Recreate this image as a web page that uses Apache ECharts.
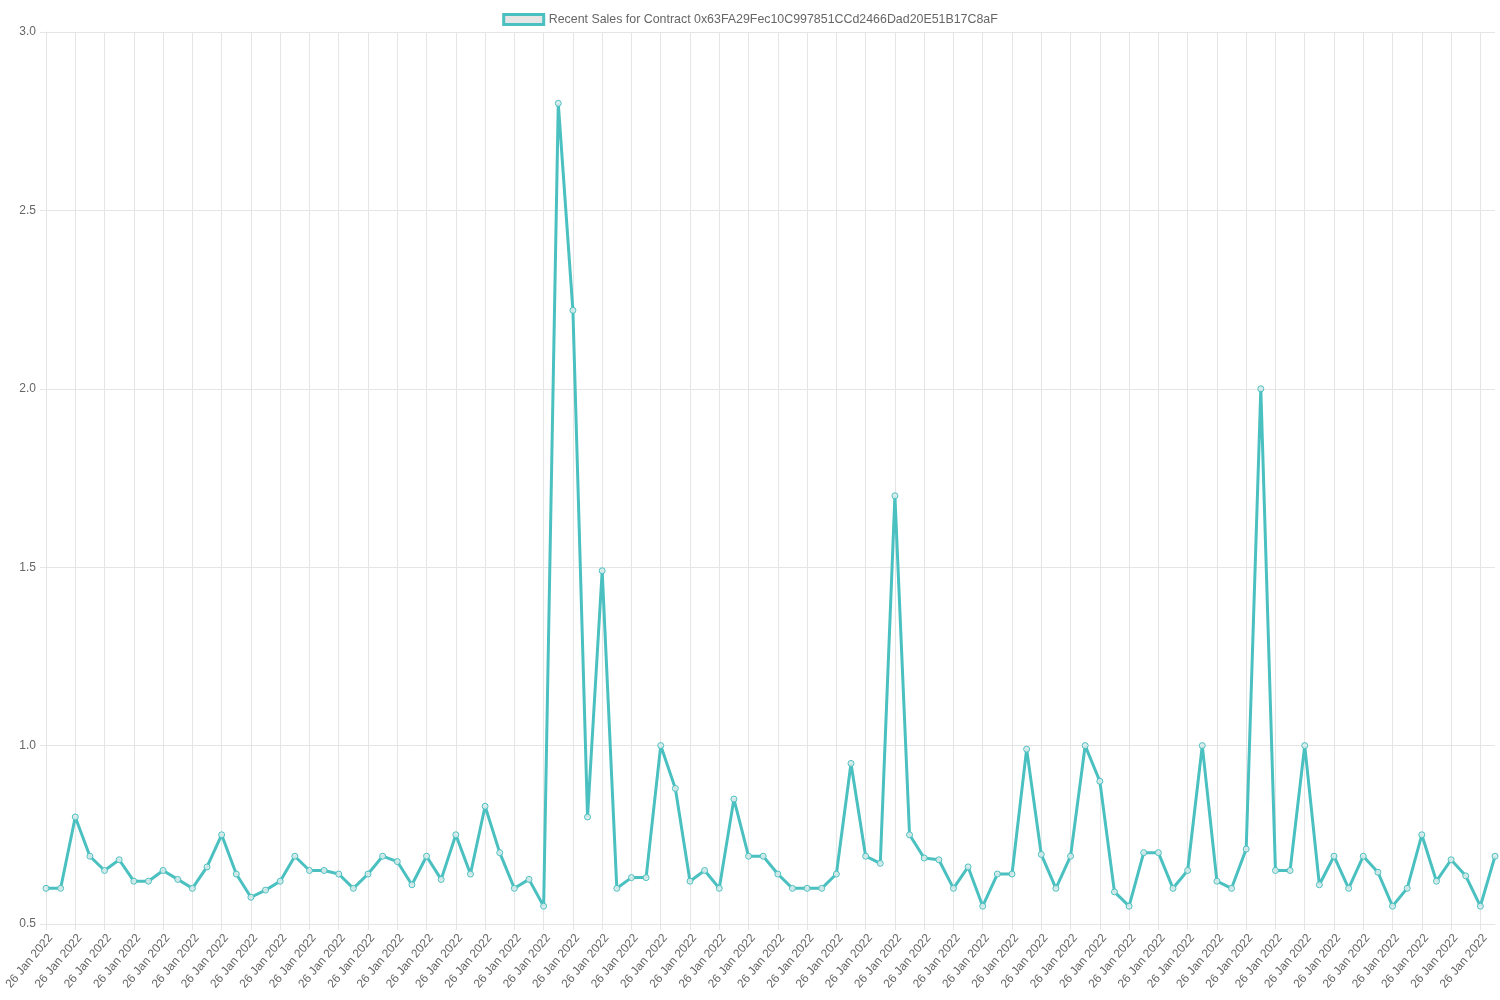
<!DOCTYPE html>
<html>
<head>
<meta charset="utf-8">
<script src="https://cdn.jsdelivr.net/npm/echarts@6/dist/echarts.min.js"></script>
<style>
  html, body { margin: 0; padding: 0; background: #fff; }
  #main { width: 1500px; height: 1000px; }
</style>
</head>
<body>
<div id="main"></div>
<script>
// sale prices
var prices = [
    0.60, 0.60, 0.80, 0.69, 0.65, 0.68, 0.62, 0.62, 0.65, 0.625,
    0.60, 0.66, 0.75, 0.64, 0.575, 0.595, 0.62, 0.69, 0.65, 0.65,
    0.64, 0.60, 0.64, 0.69, 0.675, 0.61, 0.69, 0.625, 0.75, 0.64,
    0.83, 0.70, 0.60, 0.625, 0.55, 2.80, 2.22, 0.80, 1.49, 0.60,
    0.63, 0.63, 1.00, 0.88, 0.62, 0.65, 0.60, 0.85, 0.69, 0.69,
    0.64, 0.60, 0.60, 0.60, 0.64, 0.95, 0.69, 0.67, 1.70, 0.75,
    0.685, 0.68, 0.60, 0.66, 0.55, 0.64, 0.64, 0.99, 0.695, 0.60,
    0.69, 1.00, 0.90, 0.59, 0.55, 0.70, 0.70, 0.60, 0.65, 1.00,
    0.62, 0.60, 0.71, 2.00, 0.65, 0.65, 1.00, 0.61, 0.69, 0.60,
    0.69, 0.645, 0.55, 0.60, 0.75, 0.62, 0.68, 0.635, 0.55, 0.69
];
var dates = prices.map(function () { return '26 Jan 2022'; });
var seriesName = 'Recent Sales for Contract 0x63FA29Fec10C997851CCd2466Dad20E51B17C8aF';

var teal = '#4bc0c0';
var gridColor = '#e5e5e5';
var textColor = '#666';
var font = '"Liberation Sans", Arial, sans-serif';

var myChart = echarts.init(document.getElementById('main'));
myChart.setOption({
    animation: false,
    legend: {
        top: 8,
        left: 'center',
        data: [seriesName],
        icon: 'rect',
        itemWidth: 40,
        itemHeight: 10,
        itemGap: 6,
        itemStyle: { color: '#e6e6e6', borderColor: teal, borderWidth: 3 },
        textStyle: { color: textColor, fontSize: 12.4, fontFamily: font }
    },
    grid: { left: 46, right: 5, top: 32, bottom: 76, outerBoundsMode: 'none', containLabel: false },
    xAxis: {
        type: 'category',
        data: dates,
        boundaryGap: false,
        axisLine: { lineStyle: { color: gridColor } },
        axisTick: { show: true, interval: 1, length: 6, lineStyle: { color: gridColor } },
        axisLabel: {
            interval: 1,
            rotate: 50,
            margin: 8,
            verticalAlign: 'top',
            color: textColor,
            fontSize: 12,
            fontFamily: font
        },
        splitLine: { show: true, interval: 1, lineStyle: { color: gridColor } }
    },
    yAxis: {
        type: 'value',
        min: 0.5,
        max: 3.0,
        interval: 0.5,
        axisLine: { show: true, lineStyle: { color: gridColor } },
        axisTick: { show: true, length: 6, lineStyle: { color: gridColor } },
        axisLabel: {
            margin: 10,
            color: textColor,
            fontSize: 12,
            fontFamily: font,
            formatter: function (v) { return v.toFixed(1); }
        },
        splitLine: { lineStyle: { color: gridColor } }
    },
    series: [
        {
            name: seriesName,
            type: 'line',
            data: prices,
            symbol: 'circle',
            symbolSize: 6,
            showAllSymbol: true,
            lineStyle: { color: teal, width: 3 },
            itemStyle: { color: 'rgba(220,235,235,0.9)', borderColor: teal, borderWidth: 1 }
        }
    ]
});
</script>
</body>
</html>
